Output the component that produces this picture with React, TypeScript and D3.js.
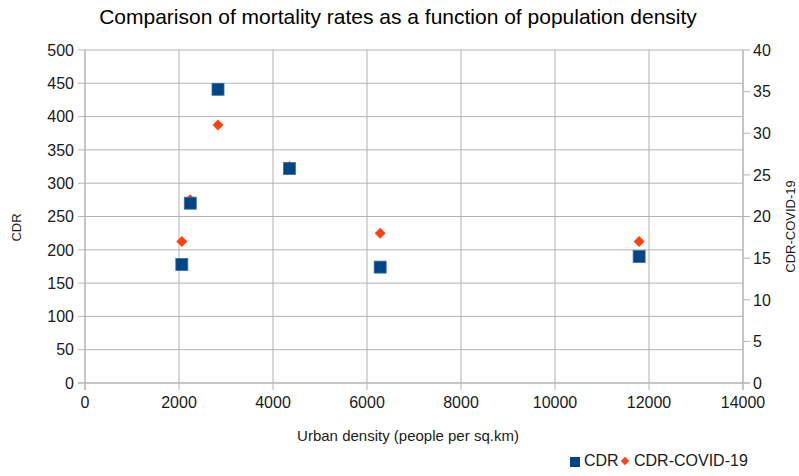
import * as d3 from "d3";

// urban density (people per sq.km) for each city
const density = [2060, 2240, 2830, 4350, 6280, 11790];
// crude death rate
const cdr = [178, 270, 441, 322, 174, 190];
// crude death rate covid-19
const cdrCovid = [17, 22, 31, 26, 18, 17];

const xTicks = [0, 2000, 4000, 6000, 8000, 10000, 12000, 14000];
const yLeftTicks = [0, 50, 100, 150, 200, 250, 300, 350, 400, 450, 500];
const yRightTicks = [0, 5, 10, 15, 20, 25, 30, 35, 40];

const title = "Comparison of mortality rates as a function of population density";
const xTitle = "Urban density (people per sq.km)";
const seriesNames = ["CDR", "CDR-COVID-19"];

const W = 799;
const H = 476;
const left = 85;
const right = 743;
const top = 50;
const bottom = 383;
const font = "'Liberation Sans', Arial, sans-serif";
const gridColor = "#b3b3b3";
const blue = "#004586";
const orange = "#ff420e";

export default function App() {
  const x = d3.scaleLinear().domain([0, 14000]).range([left, right]);
  const yL = d3.scaleLinear().domain([0, 500]).range([bottom, top]);
  const yR = d3.scaleLinear().domain([0, 40]).range([bottom, top]);

  const sq = 12;
  const diamond = d3.symbol().type(d3.symbolSquare).size(60)();

  return (
    <svg width={W} height={H} style={{ position: "absolute", left: 0, top: 0 }} fontFamily={font}>
      <rect width={W} height={H} fill="#fff" />
      <text x={398} y={24} textAnchor="middle" fontSize={21} fill="#000">{title}</text>

      {/* grid */}
      {yLeftTicks.map((t) => (
        <line key={"gy" + t} x1={left} x2={right} y1={yL(t)} y2={yL(t)} stroke={gridColor} />
      ))}
      {xTicks.map((t) => (
        <line key={"gx" + t} x1={x(t)} x2={x(t)} y1={top} y2={bottom} stroke={gridColor} />
      ))}

      {/* axes */}
      <line x1={left} x2={left} y1={top} y2={bottom + 7} stroke={gridColor} />
      <line x1={right} x2={right} y1={top} y2={bottom + 7} stroke={gridColor} />
      <line x1={left - 7} x2={right + 7} y1={bottom} y2={bottom} stroke={gridColor} />
      {yLeftTicks.map((t) => (
        <g key={"yl" + t}>
          <line x1={left - 7} x2={left} y1={yL(t)} y2={yL(t)} stroke={gridColor} />
          <text x={left - 11} y={yL(t)} dy="0.36em" textAnchor="end" fontSize={16} fill="#1a1a1a">{t}</text>
        </g>
      ))}
      {yRightTicks.map((t) => (
        <g key={"yr" + t}>
          <line x1={right} x2={right + 7} y1={yR(t)} y2={yR(t)} stroke={gridColor} />
          <text x={right + 10} y={yR(t)} dy="0.36em" textAnchor="start" fontSize={16} fill="#1a1a1a">{t}</text>
        </g>
      ))}
      {xTicks.map((t) => (
        <g key={"xt" + t}>
          <line x1={x(t)} x2={x(t)} y1={bottom} y2={bottom + 7} stroke={gridColor} />
          <text x={x(t)} y={bottom + 25} textAnchor="middle" fontSize={16} fill="#1a1a1a">{t}</text>
        </g>
      ))}

      {/* axis titles */}
      <text transform={`translate(21,${(top + bottom) / 2 + 11}) rotate(-90)`} textAnchor="middle" fontSize={13} fill="#1a1a1a">{seriesNames[0]}</text>
      <text transform={`translate(795,${(top + bottom) / 2 + 10}) rotate(-90)`} textAnchor="middle" fontSize={13} fill="#1a1a1a">{seriesNames[1]}</text>
      <text x={408} y={441} textAnchor="middle" fontSize={15} fill="#1a1a1a">{xTitle}</text>

      {/* points */}
      {density.map((d, i) => (
        <path key={"c" + i} d={diamond} transform={`translate(${x(d)},${yR(cdrCovid[i])}) rotate(45)`} fill={orange} />
      ))}
      {density.map((d, i) => (
        <rect key={"s" + i} x={x(d) - sq / 2} y={yL(cdr[i]) - sq / 2} width={sq} height={sq} fill={blue} stroke="#3a6fa5" strokeWidth={0.8} />
      ))}

      {/* legend */}
      <rect x={570} y={457} width={10} height={10} fill={blue} />
      <text x={584} y={466} fontSize={16} fill="#1a1a1a">{seriesNames[0]}</text>
      <path d={d3.symbol().type(d3.symbolSquare).size(36)()} transform="translate(625,461) rotate(45)" fill={orange} />
      <text x={634} y={466} fontSize={16} fill="#1a1a1a">{seriesNames[1]}</text>
    </svg>
  );
}
